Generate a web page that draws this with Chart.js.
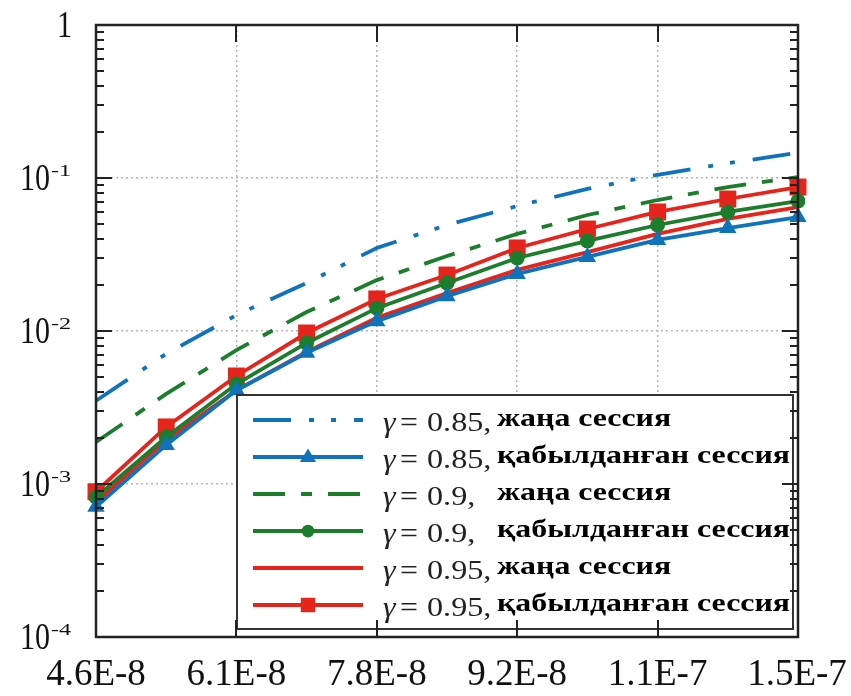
<!DOCTYPE html>
<html>
<head>
<meta charset="utf-8">
<script src="https://cdn.jsdelivr.net/npm/chart.js@4.4.1/dist/chart.umd.min.js"></script>
<style>
    html, body { margin: 0; padding: 0; background: #fff; }
</style>
</head>
<body>
<canvas id="myChart" width="851" height="696"></canvas>
<script>
// x categories (every second point is unlabeled)
const xLabels = ['4.6E-8', '', '6.1E-8', '', '7.8E-8', '', '9.2E-8', '', '1.1E-7', '', '1.5E-7'];

// y decade ticks
const yTicks = [1, 0.1, 0.01, 0.001, 0.0001];
const yTickBase = ['1', '10', '10', '10', '10'];
const yTickExp = ['', '-1', '-2', '-3', '-4'];

// series values
const blueNew = [3.5e-3, 7.1e-3, 1.27e-2, 2.06e-2, 3.49e-2, 4.93e-2, 6.56e-2, 8.48e-2, 0.105, 0.125, 0.146];
const blueAcc = [7.1e-4, 1.8e-3, 4.1e-3, 7.2e-3, 1.16e-2, 1.69e-2, 2.36e-2, 3.05e-2, 3.94e-2, 4.71e-2, 5.56e-2];
const greenNew = [1.88e-3, 3.88e-3, 7.5e-3, 1.33e-2, 2.15e-2, 3.09e-2, 4.31e-2, 5.73e-2, 7.18e-2, 8.73e-2, 0.1015];
const greenAcc = [8.2e-4, 2.03e-3, 4.5e-3, 8.35e-3, 1.41e-2, 2.06e-2, 3.0e-2, 3.88e-2, 4.93e-2, 6.0e-2, 7.07e-2];
const redNew = [7.6e-4, 1.94e-3, 4.1e-3, 7.3e-3, 1.22e-2, 1.77e-2, 2.51e-2, 3.28e-2, 4.31e-2, 5.4e-2, 6.46e-2];
const redAcc = [8.9e-4, 2.36e-3, 5.08e-3, 9.7e-3, 1.62e-2, 2.32e-2, 3.49e-2, 4.64e-2, 6.0e-2, 7.29e-2, 8.73e-2];

// legend texts
const gammaValues = ['0.85,', '0.85,', '0.9,', '0.9,', '0.95,', '0.95,'];
const sessionNames = ['жаңа сессия', 'қабылданған сессия', 'жаңа сессия', 'қабылданған сессия', 'жаңа сессия', 'қабылданған сессия'];

const BLUE = '#0f72bb';
const GREEN = '#1c7d2c';
const RED = '#e5241c';
const SERIF = '"Liberation Serif", serif';

function drawText(ctx, str, x, y, font, sx, sy, align) {
    ctx.save();
    ctx.translate(x, y);
    ctx.scale(sx, sy);
    ctx.font = font;
    ctx.textAlign = align || 'left';
    ctx.textBaseline = 'middle';
    ctx.fillText(str, 0, 0);
    ctx.restore();
}

function drawMarker(ctx, style, r, x, y) {
    ctx.beginPath();
    if (style === 'triangle') {
        ctx.moveTo(x, y - r);
        ctx.lineTo(x + r * 0.95, y + r * 0.6);
        ctx.lineTo(x - r * 0.95, y + r * 0.6);
        ctx.closePath();
    } else if (style === 'rect') {
        const s = r * Math.SQRT1_2;
        ctx.rect(x - s, y - s, 2 * s, 2 * s);
    } else {
        ctx.arc(x, y, r, 0, Math.PI * 2);
    }
    ctx.fill();
}

function drawLegend(chart) {
    const ctx = chart.ctx;
    ctx.save();
    ctx.fillStyle = '#fff';
    ctx.fillRect(237, 395, 556, 234);
    ctx.strokeStyle = '#333';
    ctx.lineWidth = 2;
    ctx.strokeRect(237, 395, 556, 234);

    ctx.font = 'bold 24px ' + SERIF;
    const sxBold = 293 / ctx.measureText('қабылданған сессия').width;

    chart.data.datasets.forEach((ds, i) => {
        const ry = 420 + i * 37;
        ctx.strokeStyle = ds.borderColor;
        ctx.lineWidth = ds.borderWidth;
        ctx.setLineDash(ds.borderDash || []);
        ctx.beginPath();
        ctx.moveTo(253, ry);
        ctx.lineTo(363, ry);
        ctx.stroke();
        ctx.setLineDash([]);
        if (ds.pointRadius > 0) {
            ctx.fillStyle = ds.borderColor;
            drawMarker(ctx, ds.pointStyle, ds.pointRadius * 0.85, 308, ry);
        }
        ctx.fillStyle = '#222';
        drawText(ctx, 'γ', 383, ry + 4, 'italic 29px ' + SERIF, 1.1, 1, 'left');
        drawText(ctx, '=', 400, ry + 4, '29px ' + SERIF, 1.1, 1, 'left');
        drawText(ctx, gammaValues[i], 427, ry + 4, '28px ' + SERIF, 1.15, 1, 'left');
        ctx.fillStyle = '#000';
        drawText(ctx, sessionNames[i], 497, ry - 1, 'bold 24px ' + SERIF, sxBold, 1.05, 'left');
    });
    ctx.restore();
}

// legend, box, inner ticks and tick labels
const frame = {
    id: 'frame',
    afterDatasetsDraw(chart) {
        drawLegend(chart);
        const {ctx, chartArea: a, scales: {x, y}} = chart;
        ctx.save();
        ctx.strokeStyle = '#222';
        ctx.lineWidth = 2;
        ctx.beginPath();
        for (let e = -4; e <= 0; e++) {
            for (let m = 1; m <= 9; m++) {
                const v = m * Math.pow(10, e);
                if (v > 1) break;
                const py = Math.round(y.getPixelForValue(v));
                const len = m === 1 ? 16 : 8;
                ctx.moveTo(a.left, py); ctx.lineTo(a.left + len, py);
                ctx.moveTo(a.right, py); ctx.lineTo(a.right - len, py);
            }
        }
        xLabels.forEach((l, i) => {
            if (!l) return;
            const px = Math.round(x.getPixelForValue(i));
            ctx.moveTo(px, a.top); ctx.lineTo(px, a.top + 17);
            ctx.moveTo(px, a.bottom); ctx.lineTo(px, a.bottom - 17);
        });
        ctx.stroke();
        ctx.lineWidth = 2.5;
        ctx.strokeRect(a.left, a.top, a.right - a.left, a.bottom - a.top);

        ctx.fillStyle = '#111';
        yTicks.forEach((v, i) => {
            const py = y.getPixelForValue(v) + 2;
            if (!yTickExp[i]) {
                drawText(ctx, yTickBase[i], 72, py, '30px ' + SERIF, 1, 1.25, 'right');
            } else {
                drawText(ctx, yTickBase[i], 50, py, '30px ' + SERIF, 1, 1.25, 'right');
                drawText(ctx, yTickExp[i], 51, py - 9, '22px ' + SERIF, 1.1, 0.8, 'left');
            }
        });
        xLabels.forEach((l, i) => {
            if (!l) return;
            const cx = Math.min(Math.max(x.getPixelForValue(i), 88), 797);
            drawText(ctx, l, cx, 675, '37px ' + SERIF, 1, 1, 'center');
        });
        ctx.restore();
    }
};

function lineSet(label, data, color, dash, style, radius) {
    return {
        label,
        data,
        borderColor: color,
        backgroundColor: color,
        borderWidth: 3.8,
        borderDash: dash,
        pointStyle: style,
        pointRadius: radius,
        pointBorderWidth: 0,
        tension: 0
    };
}

const chartData = {
    labels: xLabels,
    datasets: [
        lineSet('γ = 0.85, жаңа сессия', blueNew, BLUE, [38, 18, 5, 17, 5, 18], false, 0),
        lineSet('γ = 0.85, қабылданған сессия', blueAcc, BLUE, [], 'triangle', 10),
        lineSet('γ = 0.9, жаңа сессия', greenNew, GREEN, [32, 16, 11, 16], false, 0),
        lineSet('γ = 0.9, қабылданған сессия', greenAcc, GREEN, [], 'circle', 7.5),
        lineSet('γ = 0.95, жаңа сессия', redNew, RED, [], false, 0),
        lineSet('γ = 0.95, қабылданған сессия', redAcc, RED, [], 'rect', 12)
    ]
};

const config = {
    type: 'line',
    data: chartData,
    options: {
        responsive: false,
        animation: false,
        layout: {
            padding: {left: 96, top: 25, right: 53, bottom: 59}
        },
        scales: {
            x: {
                offset: false,
                ticks: {display: false},
                border: {display: false, dash: [2, 3]},
                grid: {
                    drawTicks: false,
                    lineWidth: 1.5,
                    color: ctx => (ctx.index % 2 === 0 ? '#b5b5b5' : 'rgba(0,0,0,0)')
                }
            },
            y: {
                type: 'logarithmic',
                min: 1e-4,
                max: 1,
                ticks: {display: false},
                border: {display: false, dash: [2, 3]},
                grid: {
                    drawTicks: false,
                    lineWidth: 1.5,
                    color: ctx => {
                        const v = ctx.tick ? ctx.tick.value : 0;
                        const l = Math.log10(v);
                        return Math.abs(l - Math.round(l)) < 1e-9 ? '#b5b5b5' : 'rgba(0,0,0,0)';
                    }
                }
            }
        },
        plugins: {
            legend: {display: false},
            tooltip: {enabled: false}
        }
    },
    plugins: [frame]
};

const chart = new Chart(document.getElementById('myChart'), config);
</script>
</body>
</html>
